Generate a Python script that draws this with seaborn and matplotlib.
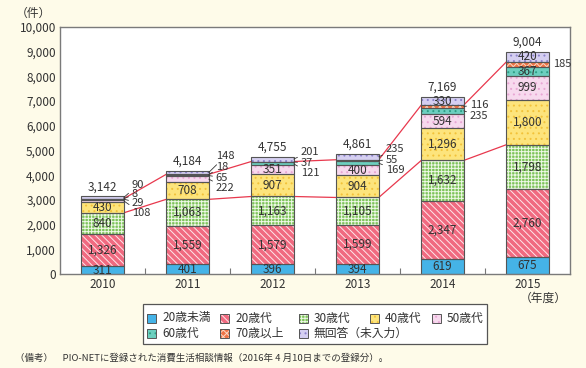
import numpy as np
import pandas as pd
import seaborn as sns
import matplotlib.pyplot as plt
from matplotlib.patches import Rectangle

# --- data -------------------------------------------------------------
years = ['2010', '2011', '2012', '2013', '2014', '2015']
age_groups = ['20歳未満', '20歳代', '30歳代', '40歳代', '50歳代',
              '60歳代', '70歳以上', '無回答（未入力）']
under20 = [311, 401, 396, 394, 619, 675]
age20s = [1326, 1559, 1579, 1599, 2347, 2760]
age30s = [840, 1063, 1163, 1105, 1632, 1798]
age40s = [430, 708, 907, 904, 1296, 1800]
age50s = [108, 222, 351, 400, 594, 999]
age60s = [29, 65, 121, 169, 235, 367]
age70plus = [8, 18, 37, 55, 116, 185]
no_answer = [90, 148, 201, 235, 330, 420]
totals = [3142, 4184, 4755, 4861, 7169, 9004]

layers = [under20, age20s, age30s, age40s, age50s, age60s, age70plus, no_answer]

# --- styles -----------------------------------------------------------
BG = '#fefbe9'
EDGE = '#555555'
TXT = '#333333'
styles = [  # face, hatch, hatch colour
    ('#45b3e7', None, None),
    ('#f06a80', '\\\\\\\\\\', '#fde7ea'),
    ('#7dc35a', '+++++', '#eef8e6'),
    ('#fde47c', '...', '#f2c23a'),
    ('#f7d9ee', '...', '#e8a6d4'),
    ('#6ccfbf', '...', '#2f9f86'),
    ('#ef7346', 'xxxxx', '#fbd9c4'),
    ('#d5cff1', '...', '#8c82cc'),
]
W = 0.5
# outside labels: (year idx, layer idx) -> (dx px, dy px down, leader)
outside = {
    (0, 7): (8, -12.5, True), (0, 6): (8, -4.5, True), (0, 5): (8, 3.5, True), (0, 4): (8, 12, True),
    (1, 7): (7, -16, True), (1, 6): (7, -8, True), (1, 5): (7, 2, True), (1, 4): (7, 8.5, True),
    (2, 7): (7, -7.5, True), (2, 6): (7, 1, True), (2, 5): (7, 9, True),
    (3, 7): (7, -7.5, True), (3, 6): (7, -0.5, True), (3, 5): (7, 6.5, True),
    (4, 6): (6, -2, True), (4, 5): (6, 5, True),
    (5, 6): (4, 0, False),
}

sns.set_theme(style='white')
plt.rcParams['font.family'] = ['Noto Sans CJK JP', 'DejaVu Sans']
plt.rcParams['hatch.linewidth'] = 0.7

FW, FH = 586, 368
fig = plt.figure(figsize=(FW / 100, FH / 100), dpi=100, facecolor=BG)
ax = fig.add_axes([60 / FW, 1 - 274 / FH, 510 / FW, 247 / FH])
ax.set_facecolor('white')

# --- stacked bars -----------------------------------------------------
bottom = np.zeros(len(years))
for vals, (fc, hatch, hc) in zip(layers, styles):
    sns.barplot(x=years, y=vals, bottom=bottom, order=years, color=fc, saturation=1,
                width=W, errorbar=None, edgecolor='none', linewidth=0, ax=ax, zorder=2)
    for p in ax.containers[-1]:
        if hatch:
            ax.add_patch(Rectangle(p.get_xy(), p.get_width(), p.get_height(), fill=False,
                                   hatch=hatch, edgecolor=hc, linewidth=0, zorder=2.1))
        ax.add_patch(Rectangle(p.get_xy(), p.get_width(), p.get_height(), fill=False,
                               edgecolor=EDGE, linewidth=0.8, zorder=2.2))
    bottom = bottom + np.array(vals)

# --- connecting red lines ----------------------------------------------
cum = np.cumsum(np.array(layers), axis=0)
for level in (cum[2], cum[6]):
    for i in range(len(years) - 1):
        ax.plot([i + W / 2, i + 1 - W / 2], [level[i], level[i + 1]],
                color='#e8384d', lw=0.9, zorder=1.5)

# --- value labels -------------------------------------------------------
for j, vals in enumerate(layers):
    base = cum[j] - np.array(vals)
    for i, v in enumerate(vals):
        mid = base[i] + v / 2
        if (i, j) in outside:
            dx, dy, lead = outside[(i, j)]
            ax.annotate(f'{v:,}', xy=(i + W / 2, mid), xytext=(dx, -dy),
                        textcoords='offset pixels', ha='left', va='center',
                        fontsize=8, color=TXT, zorder=5,
                        arrowprops=dict(arrowstyle='-', color=TXT, lw=0.6,
                                        shrinkA=0, shrinkB=0) if lead else None)
        elif v >= 300:
            ax.text(i, mid, f'{v:,}', ha='center', va='center', fontsize=8.5,
                    color=TXT, zorder=5)
for i, t in enumerate(totals):
    ax.annotate(f'{t:,}', xy=(i, t), xytext=(0, 3), textcoords='offset pixels',
                ha='center', va='bottom', fontsize=8.5, color=TXT)

# --- axes ---------------------------------------------------------------
ax.set_xlim(-0.5, len(years) - 0.5)
ax.set_ylim(0, 10000)
ax.set_yticks(range(0, 10001, 1000))
ax.set_yticklabels([f'{v:,}' for v in range(0, 10001, 1000)])
ax.set_xticks(range(len(years)))
ax.set_xticklabels(years)
ax.set_xticks(np.arange(0.5, len(years) - 1, 1), minor=True)
ax.tick_params(axis='y', direction='in', length=4, width=0.8, color='#777777',
               labelsize=8.5, labelcolor=TXT, pad=3)
ax.tick_params(axis='x', which='major', length=0, labelsize=8.5, labelcolor=TXT, pad=3)
ax.tick_params(axis='x', which='minor', direction='in', length=4, width=0.8,
               color='#777777', bottom=True)
ax.set_xlabel('')
ax.set_ylabel('')
for s in ax.spines.values():
    s.set_visible(True)
    s.set_color('#7a7a7a')
    s.set_linewidth(1)

fig.text(33 / FW, 1 - 13 / FH, '（件）', ha='center', va='center', fontsize=8.5, color=TXT)
fig.text(543 / FW, 1 - 298.5 / FH, '（年度）', ha='center', va='center', fontsize=8.5, color=TXT)

# --- legend (manual two-row layout) ---------------------------------------
def fpx(x, y):
    return x / FW, 1 - y / FH

fig.patches.append(Rectangle(fpx(143, 344), 344 / FW, 40 / FH, transform=fig.transFigure,
                             facecolor='white', edgecolor='#555555', lw=0.9, zorder=1))
leg_cols = [147, 220, 299, 370, 432]
leg_rows = [318, 333]
for k, (name, (fc, hatch, hc)) in enumerate(zip(age_groups, styles)):
    x0 = leg_cols[k % 5]
    y0 = leg_rows[k // 5]
    xy = fpx(x0, y0 + 4.5)
    w, h = 9 / FW, 9 / FH
    fig.patches.append(Rectangle(xy, w, h, transform=fig.transFigure, facecolor=fc,
                                 edgecolor='none', zorder=2))
    if hatch:
        fig.patches.append(Rectangle(xy, w, h, transform=fig.transFigure, fill=False,
                                     hatch=hatch, edgecolor=hc, lw=0, zorder=2.1))
    fig.patches.append(Rectangle(xy, w, h, transform=fig.transFigure, fill=False,
                                 edgecolor=EDGE, lw=0.7, zorder=2.2))
    fig.text(*fpx(x0 + 15, y0), name, ha='left', va='center', fontsize=8.5, color=TXT)

fig.text(15 / FW, 1 - 358 / FH,
         '（備考）　PIO-NETに登録された消費生活相談情報（2016年 4 月10日までの登録分）。',
         ha='left', va='center', fontsize=6.8, color=TXT)

fig.savefig('out.png', dpi=100, facecolor=BG)
